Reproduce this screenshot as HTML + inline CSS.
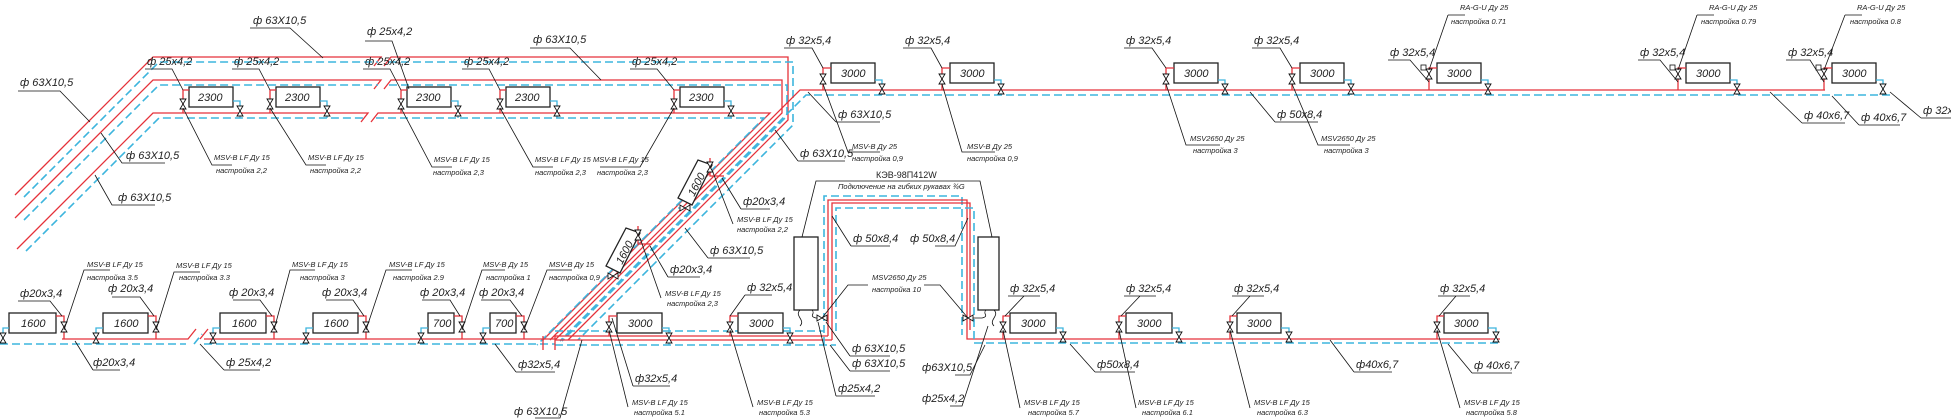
<!DOCTYPE html>
<html><head><meta charset="utf-8"><style>
html,body{margin:0;padding:0;background:#fff;}
svg{display:block;}
text{font-family:"Liberation Sans",sans-serif;font-style:italic;fill:#222;}
.p{font-size:11px;}
.m{font-size:7.5px;}
.bx{font-size:11px;}
.r{stroke:#e5323a;stroke-width:1.3;fill:none;}
.b{stroke:#3db5dd;stroke-width:1.6;fill:none;stroke-dasharray:8,4;}
.bs{stroke:#3db5dd;stroke-width:1.3;fill:none;}
.k{stroke:#111;stroke-width:0.8;fill:none;}
.box{stroke:#222;stroke-width:1.3;fill:#fff;}
</style></head><body>
<svg width="1951" height="419" viewBox="0 0 1951 419" xmlns="http://www.w3.org/2000/svg">
<defs>
<path id="v" d="M-3,-5H3L-3,5H3Z" stroke="#111" stroke-width="0.9" fill="#fff"/>
<path id="h" d="M-5,-3V3L5,-3V3Z" stroke="#111" stroke-width="0.9" fill="#fff"/>
</defs>

<!-- ===== TOP LEFT PIPES ===== -->
<path class="r" d="M15,195 L153,57 H381 l-7,9 M384,66 l7,-9 H788 V120 L568,340"/>
<path class="b" d="M24,197 L159,62 H378 M389,62 H793 V125 L578,340"/>
<path class="r" d="M15,218 L153,80 H381 l-7,9 M384,89 l7,-9 H782 V113 L555,340"/>
<path class="b" d="M24,220 L159,85 H378 M389,85 H787 V116 L562,341"/>
<path class="r" d="M17,249 L153,113 H368 l-7,9 M371,122 l7,-9 H770 L543,340"/>
<path class="b" d="M26,251 L159,118 H365 M376,118 H764 L537,345"/>

<!-- top left radiators -->
<g>
<rect class="box" x="189" y="87" width="44" height="20"/><text class="bx" x="198" y="101">2300</text>
<rect class="box" x="276" y="87" width="44" height="20"/><text class="bx" x="285" y="101">2300</text>
<rect class="box" x="407" y="87" width="44" height="20"/><text class="bx" x="416" y="101">2300</text>
<rect class="box" x="506" y="87" width="44" height="20"/><text class="bx" x="515" y="101">2300</text>
<rect class="box" x="680" y="87" width="44" height="20"/><text class="bx" x="689" y="101">2300</text>
<path class="r" d="M183,113V90H189 M270,113V90H276 M401,113V90H407 M500,113V90H506 M674,113V90H680"/>
<path class="bs" d="M233,101H240V118 M320,101H327V118 M451,101H458V118 M550,101H557V118 M724,101H731V118"/>
<use href="#v" x="183" y="104"/><use href="#v" x="270" y="104"/><use href="#v" x="401" y="104"/><use href="#v" x="500" y="104"/><use href="#v" x="674" y="104"/>
<use href="#v" x="240" y="111"/><use href="#v" x="327" y="111"/><use href="#v" x="458" y="111"/><use href="#v" x="557" y="111"/><use href="#v" x="731" y="111"/>
</g>
<text class="p" x="147" y="65">ф 25x4,2</text>
<text class="p" x="234" y="65">ф 25x4,2</text>
<text class="p" x="365" y="65">ф 25x4,2</text>
<text class="p" x="464" y="65">ф 25x4,2</text>
<text class="p" x="632" y="65">ф 25x4,2</text>
<path class="k" d="M145,69H172L183,90 M232,69H259L270,90 M363,69H390L401,90 M462,69H489L500,90 M630,69H657L674,90"/>
<g class="m">
<text x="214" y="160">MSV-B LF Ду 15</text><text x="216" y="173">настройка 2,2</text>
<text x="308" y="160">MSV-B LF Ду 15</text><text x="310" y="173">настройка 2,2</text>
<text x="434" y="162">MSV-B LF Ду 15</text><text x="433" y="175">настройка 2,3</text>
<text x="535" y="162">MSV-B LF Ду 15</text><text x="535" y="175">настройка 2,3</text>
<text x="593" y="162">MSV-B LF Ду 15</text><text x="597" y="175">настройка 2,3</text>
</g>
<path class="k" d="M183,108L212,165H232 M270,108L306,165H326 M401,108L432,167H452 M500,108L533,167H553 M674,108L640,167H600"/>
<!-- top labels -->
<text class="p" x="253" y="24">ф 63X10,5</text><path class="k" d="M250,28H290L323,58"/>
<text class="p" x="367" y="35">ф 25x4,2</text><path class="k" d="M365,41H392L409,89"/>
<text class="p" x="533" y="43">ф 63X10,5</text><path class="k" d="M530,48H570L601,80"/>
<text class="p" x="20" y="86">ф 63X10,5</text><path class="k" d="M18,91H60L90,122"/>
<text class="p" x="126" y="159">ф 63X10,5</text><path class="k" d="M165,163H122L101,133"/>
<text class="p" x="118" y="201">ф 63X10,5</text><path class="k" d="M155,205H112L95,175"/>

<!-- ===== TOP RIGHT ===== -->
<path class="r" d="M1825,90H800 L550,340"/>
<path class="b" d="M1890,95H806 L560,341"/>
<g>
<rect class="box" x="831" y="63" width="44" height="20"/><text class="bx" x="841" y="77">3000</text>
<rect class="box" x="950" y="63" width="44" height="20"/><text class="bx" x="960" y="77">3000</text>
<rect class="box" x="1174" y="63" width="44" height="20"/><text class="bx" x="1184" y="77">3000</text>
<rect class="box" x="1300" y="63" width="44" height="20"/><text class="bx" x="1310" y="77">3000</text>
<rect class="box" x="1437" y="63" width="44" height="20"/><text class="bx" x="1447" y="77">3000</text>
<rect class="box" x="1686" y="63" width="44" height="20"/><text class="bx" x="1696" y="77">3000</text>
<rect class="box" x="1832" y="63" width="44" height="20"/><text class="bx" x="1842" y="77">3000</text>
<path class="r" d="M823,90V68H831 M942,90V68H950 M1166,90V68H1174 M1292,90V68H1300 M1429,90V68H1437 M1678,90V68H1686 M1824,90V68H1832"/>
<path class="bs" d="M875,80H882V95 M994,80H1001V95 M1218,80H1225V95 M1344,80H1351V95 M1481,80H1488V95 M1730,80H1737V95 M1876,80H1883V95"/>
<use href="#v" x="823" y="79"/><use href="#v" x="942" y="79"/><use href="#v" x="1166" y="79"/><use href="#v" x="1292" y="79"/><use href="#v" x="1429" y="74"/><use href="#v" x="1678" y="74"/><use href="#v" x="1824" y="74"/>
<use href="#v" x="882" y="89"/><use href="#v" x="1001" y="89"/><use href="#v" x="1225" y="89"/><use href="#v" x="1351" y="89"/><use href="#v" x="1488" y="89"/><use href="#v" x="1737" y="89"/><use href="#v" x="1883" y="89"/>
<rect x="1421" y="65" width="5" height="5" stroke="#111" stroke-width="0.8" fill="#fff"/>
<rect x="1670" y="65" width="5" height="5" stroke="#111" stroke-width="0.8" fill="#fff"/>
<rect x="1816" y="65" width="5" height="5" stroke="#111" stroke-width="0.8" fill="#fff"/>
</g>
<text class="p" x="786" y="44">ф 32x5,4</text><path class="k" d="M784,48H812L823,68"/>
<text class="p" x="905" y="44">ф 32x5,4</text><path class="k" d="M903,48H931L942,68"/>
<text class="p" x="1126" y="44">ф 32x5,4</text><path class="k" d="M1124,48H1152L1166,68"/>
<text class="p" x="1254" y="44">ф 32x5,4</text><path class="k" d="M1252,48H1280L1292,68"/>
<text class="p" x="1390" y="56">ф 32x5,4</text><path class="k" d="M1388,60H1410L1429,82"/>
<text class="p" x="1640" y="56">ф 32x5,4</text><path class="k" d="M1638,60H1660L1678,82"/>
<text class="p" x="1788" y="56">ф 32x5,4</text><path class="k" d="M1786,60H1810L1824,82"/>
<g class="m">
<text x="1460" y="10">RA-G-U Ду 25</text><text x="1451" y="24">настройка 0.71</text>
<text x="1709" y="10">RA-G-U Ду 25</text><text x="1701" y="24">настройка 0.79</text>
<text x="1857" y="10">RA-G-U Ду 25</text><text x="1850" y="24">настройка 0.8</text>
<text x="852" y="149">MSV-B  Ду 25</text><text x="852" y="161">настройка 0,9</text>
<text x="967" y="149">MSV-B  Ду 25</text><text x="967" y="161">настройка 0,9</text>
<text x="1190" y="141">MSV2650  Ду 25</text><text x="1193" y="153">настройка 3</text>
<text x="1321" y="141">MSV2650  Ду 25</text><text x="1324" y="153">настройка 3</text>
</g>
<path class="k" d="M1448,15H1465 M1448,15L1429,70 M1697,15H1714 M1697,15L1678,70 M1845,15H1862 M1845,15L1824,70"/>
<path class="k" d="M823,84L848,152H880 M942,84L962,152H995 M1166,84L1186,145H1220 M1292,84L1318,145H1350"/>
<text class="p" x="838" y="118">ф 63X10,5</text><path class="k" d="M836,122H880 M836,122L808,92"/>
<text class="p" x="800" y="157">ф 63X10,5</text><path class="k" d="M798,161H845 M798,161L775,130"/>
<text class="p" x="1277" y="118">ф 50x8,4</text><path class="k" d="M1275,122H1318 M1275,122L1250,92"/>
<text class="p" x="1804" y="119">ф 40x6,7</text><path class="k" d="M1802,123H1845 M1802,123L1770,92"/>
<text class="p" x="1861" y="121">ф 40x6,7</text><path class="k" d="M1859,125H1900 M1859,125L1832,96"/>
<text class="p" x="1923" y="114">ф 32x5,4</text><path class="k" d="M1921,118H1951 M1921,118L1890,92"/>

<!-- ===== BOTTOM LEFT ===== -->
<path class="r" d="M62,339H188 l8,-10 M200,339 l8,-10 M204,339H555"/>
<path class="b" d="M0,344H186 M194,344 l8,-10 M204,344H555"/>
<path class="r" d="M555,336H828 M555,340H832"/>
<path class="b" d="M555,331H824 M555,345H836"/>
<g>
<rect class="box" x="9" y="313" width="47" height="20"/><text class="bx" x="21" y="327">1600</text>
<rect class="box" x="103" y="313" width="45" height="20"/><text class="bx" x="114" y="327">1600</text>
<rect class="box" x="220" y="313" width="46" height="20"/><text class="bx" x="232" y="327">1600</text>
<rect class="box" x="313" y="313" width="45" height="20"/><text class="bx" x="324" y="327">1600</text>
<rect class="box" x="428" y="313" width="26" height="20"/><text class="bx" x="433" y="327">700</text>
<rect class="box" x="490" y="313" width="26" height="20"/><text class="bx" x="495" y="327">700</text>
<path class="r" d="M64,339V316H56 M156,339V316H148 M274,339V316H266 M366,339V316H358 M462,339V316H454 M524,339V316H516"/>
<path class="bs" d="M9,328H3V344 M103,328H96V344 M220,328H213V344 M313,328H306V344 M428,328H421V344 M490,328H483V344"/>
<use href="#v" x="64" y="327"/><use href="#v" x="156" y="327"/><use href="#v" x="274" y="327"/><use href="#v" x="366" y="327"/><use href="#v" x="462" y="327"/><use href="#v" x="524" y="327"/>
<use href="#v" x="3" y="338"/><use href="#v" x="96" y="338"/><use href="#v" x="213" y="338"/><use href="#v" x="306" y="338"/><use href="#v" x="421" y="338"/><use href="#v" x="483" y="338"/>
</g>
<text class="p" x="20" y="297">ф20x3,4</text><path class="k" d="M18,301H50L62,316"/>
<text class="p" x="108" y="292">ф  20x3,4</text><path class="k" d="M112,297H140L154,316"/>
<text class="p" x="229" y="296">ф  20x3,4</text><path class="k" d="M233,300H260L272,316"/>
<text class="p" x="322" y="296">ф  20x3,4</text><path class="k" d="M326,300H353L364,316"/>
<text class="p" x="420" y="296">ф  20x3,4</text><path class="k" d="M422,300H450L460,316"/>
<text class="p" x="479" y="296">ф  20x3,4</text><path class="k" d="M481,300H510L522,316"/>
<g class="m">
<text x="87" y="267">MSV-B LF Ду 15</text><text x="87" y="280">настройка 3.5</text>
<text x="176" y="268">MSV-B LF Ду 15</text><text x="179" y="280">настройка 3.3</text>
<text x="292" y="267">MSV-B LF Ду 15</text><text x="300" y="280">настройка 3</text>
<text x="389" y="267">MSV-B LF Ду 15</text><text x="393" y="280">настройка 2.9</text>
<text x="483" y="267">MSV-B  Ду 15</text><text x="486" y="280">настройка 1</text>
<text x="549" y="267">MSV-B  Ду 15</text><text x="549" y="280">настройка 0,9</text>
</g>
<path class="k" d="M64,330L84,270H110 M156,330L174,272H200 M274,330L290,270H315 M366,330L386,270H412 M462,330L482,270H505 M524,330L547,270H572"/>
<text class="p" x="93" y="366">ф20x3,4</text><path class="k" d="M93,370H120 M93,370L75,341"/>
<text class="p" x="226" y="366">ф 25x4,2</text><path class="k" d="M224,370H260 M224,370L200,344"/>
<text class="p" x="518" y="368">ф32x5,4</text><path class="k" d="M516,372H555 M516,372L495,344"/>
<text class="p" x="514" y="415">ф 63X10,5</text><path class="k" d="M535,418H560L582,340"/>
<path class="r" d="M543,350V336 M555,350V336"/>

<!-- diagonal 1600 radiators -->
<polygon class="box" points="678,198 698,160 712,165 692,205"/>
<text class="bx" x="0" y="0" transform="translate(694,197) rotate(-62)">1600</text>
<polygon class="box" points="606,266 626,228 640,233 620,273"/>
<text class="bx" x="0" y="0" transform="translate(622,265) rotate(-62)">1600</text>
<path class="r" d="M710,158V176H724 M638,226V244H652"/>
<path class="bs" d="M678,208H690 M606,276H618"/>
<use href="#v" x="710" y="167"/><use href="#v" x="638" y="235"/>
<use href="#h" x="685" y="208"/><use href="#h" x="613" y="276"/>
<text class="p" x="743" y="205">ф20x3,4</text><path class="k" d="M741,209H770 M741,209L722,178"/>
<text class="p" x="670" y="273">ф20x3,4</text><path class="k" d="M668,277H700 M668,277L650,246"/>
<g class="m">
<text x="737" y="222">MSV-B LF Ду 15</text><text x="737" y="232">настройка 2,2</text>
<text x="665" y="296">MSV-B LF Ду 15</text><text x="667" y="306">настройка 2,3</text>
</g>
<path class="k" d="M712,170L733,224 M640,238L661,298"/>
<text class="p" x="710" y="254">ф 63X10,5</text><path class="k" d="M708,258H750 M708,258L685,228"/>

<!-- bottom 3000 (middle) -->
<rect class="box" x="617" y="313" width="45" height="20"/><text class="bx" x="628" y="327">3000</text>
<rect class="box" x="738" y="313" width="45" height="20"/><text class="bx" x="749" y="327">3000</text>
<path class="r" d="M609,336V316H617 M730,336V316H738"/>
<path class="bs" d="M662,328H669V345 M783,328H790V345"/>
<use href="#v" x="609" y="327"/><use href="#v" x="730" y="327"/><use href="#v" x="669" y="338"/><use href="#v" x="790" y="338"/>
<text class="p" x="747" y="291">ф 32x5,4</text><path class="k" d="M745,295H772 M745,295L730,316"/>
<text class="p" x="635" y="382">ф32x5,4</text><path class="k" d="M633,386H670 M633,386L612,318"/>
<g class="m">
<text x="632" y="405">MSV-B LF Ду 15</text><text x="634" y="415">настройка 5.1</text>
<text x="757" y="405">MSV-B LF Ду 15</text><text x="759" y="415">настройка 5.3</text>
</g>
<path class="k" d="M609,330L628,407 M730,330L753,407"/>

<!-- KEV loop -->
<path class="b" d="M824,345V196H962V335"/>
<path class="r" d="M828,336V200H967V339H1500"/>
<path class="r" d="M832,340V203H970V330"/>
<path class="b" d="M836,331V208H974V343H1500"/>
<rect class="box" x="794" y="237" width="24" height="73"/>
<rect class="box" x="978" y="237" width="21" height="73"/>
<path class="k" d="M802,237L816,181H980L992,237"/>
<text x="876" y="178" style="font-size:9px;font-style:normal">КЭВ-98П412W</text>
<text class="m" x="838" y="189">Подключение на гибких рукавах ¾G</text>
<path class="k" d="M800,310c-6,6 6,10 0,16 M812,310c4,4 -4,6 4,8H826 M986,310c-4,4 4,6 -4,8H972 M994,310c6,6 -6,10 0,16"/>
<use href="#h" x="822" y="318"/><use href="#h" x="968" y="318"/>
<text class="p" x="853" y="242">ф 50x8,4</text><path class="k" d="M851,246H890 M851,246L832,216"/>
<text class="p" x="910" y="242">ф 50x8,4</text><path class="k" d="M935,246H955L968,218"/>
<g class="m"><text x="872" y="280">MSV2650  Ду 25</text><text x="872" y="292">настройка 10</text></g>
<path class="k" d="M868,285H848L822,318 M924,285H940L968,318"/>
<text class="p" x="852" y="352">ф 63X10,5</text><path class="k" d="M850,356H890 M850,356L826,322"/>
<text class="p" x="852" y="367">ф 63X10,5</text><path class="k" d="M850,371H890 M850,371L830,345"/>
<text class="p" x="838" y="392">ф25x4,2</text><path class="k" d="M836,396H875 M836,396L818,322"/>
<text class="p" x="922" y="371">ф63X10,5</text><path class="k" d="M955,375H970L985,345"/>
<text class="p" x="922" y="402">ф25x4,2</text><path class="k" d="M950,406H962L988,326"/>

<!-- bottom right radiators -->
<rect class="box" x="1010" y="313" width="46" height="20"/><text class="bx" x="1021" y="327">3000</text>
<rect class="box" x="1126" y="313" width="46" height="20"/><text class="bx" x="1137" y="327">3000</text>
<rect class="box" x="1237" y="313" width="44" height="20"/><text class="bx" x="1247" y="327">3000</text>
<rect class="box" x="1444" y="313" width="44" height="20"/><text class="bx" x="1454" y="327">3000</text>
<path class="r" d="M1003,339V316H1010 M1119,339V316H1126 M1230,339V316H1237 M1437,339V316H1444"/>
<path class="bs" d="M1056,328H1063V343 M1172,328H1179V343 M1281,328H1289V343 M1488,328H1496V343"/>
<use href="#v" x="1003" y="327"/><use href="#v" x="1119" y="327"/><use href="#v" x="1230" y="327"/><use href="#v" x="1437" y="327"/>
<use href="#v" x="1063" y="337"/><use href="#v" x="1179" y="337"/><use href="#v" x="1289" y="337"/><use href="#v" x="1496" y="337"/>
<text class="p" x="1010" y="292">ф 32x5,4</text><path class="k" d="M1008,296H1040 M1024,296L1005,316"/>
<text class="p" x="1126" y="292">ф 32x5,4</text><path class="k" d="M1124,296H1156 M1140,296L1121,316"/>
<text class="p" x="1234" y="292">ф 32x5,4</text><path class="k" d="M1232,296H1264 M1250,296L1232,316"/>
<text class="p" x="1440" y="292">ф 32x5,4</text><path class="k" d="M1438,296H1470 M1456,296L1439,316"/>
<g class="m">
<text x="1024" y="405">MSV-B LF Ду 15</text><text x="1028" y="415">настройка 5.7</text>
<text x="1138" y="405">MSV-B LF Ду 15</text><text x="1142" y="415">настройка 6.1</text>
<text x="1254" y="405">MSV-B LF Ду 15</text><text x="1257" y="415">настройка 6.3</text>
<text x="1464" y="405">MSV-B LF Ду 15</text><text x="1466" y="415">настройка 5.8</text>
</g>
<path class="k" d="M1003,330L1020,408 M1119,330L1136,408 M1230,330L1250,408 M1437,330L1460,408"/>
<text class="p" x="1097" y="368">ф50x8,4</text><path class="k" d="M1095,372H1135 M1095,372L1070,344"/>
<text class="p" x="1356" y="368">ф40x6,7</text><path class="k" d="M1354,372H1392 M1354,372L1330,340"/>
<text class="p" x="1474" y="369">ф 40x6,7</text><path class="k" d="M1472,373H1512 M1472,373L1448,344"/>
</svg>
</body></html>
